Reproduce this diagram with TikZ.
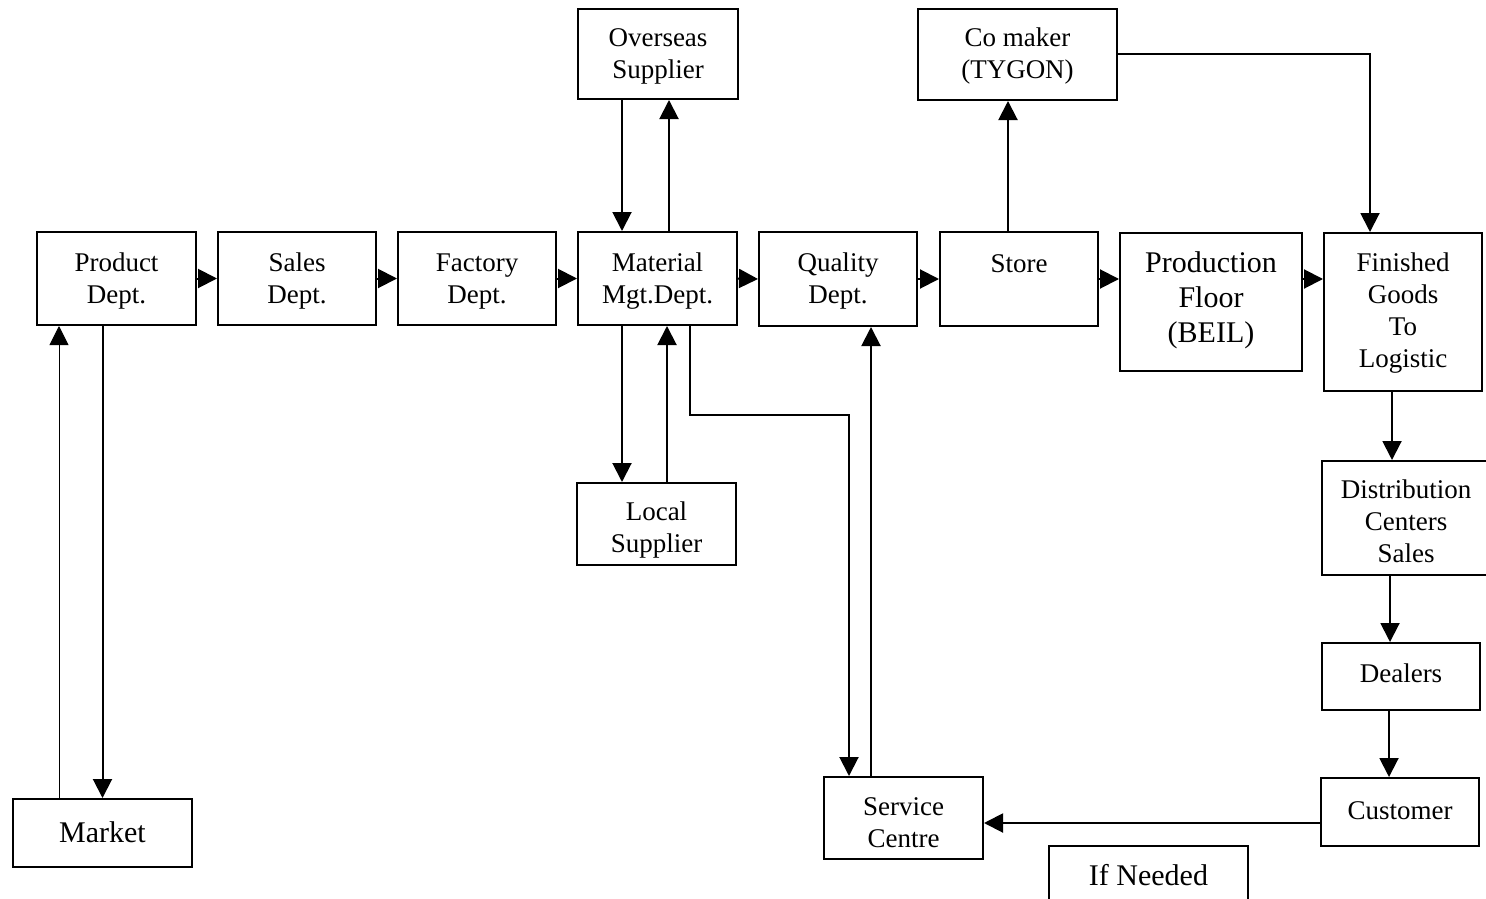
\documentclass[tikz,border=0pt]{standalone}
\usepackage{fontspec}
\setmainfont{Liberation Serif}
\usetikzlibrary{arrows.meta}
% centred lines of box text, lowered by #1 without changing the box size
\newcommand{\boxtext}[2]{\raisebox{-#1}[\height][\depth]{\begin{tabular}{@{}c@{}}#2\end{tabular}}}
\begin{document}
\begin{tikzpicture}[x=1pt,y=-1pt,
  box/.style={draw, line width=2pt, inner sep=0pt,
    font=\fontsize{27}{32}\selectfont},
  bigbox/.style={box, font=\fontsize{30}{35}\selectfont},
  arr/.style={line width=2pt, -{Triangle[length=19pt,width=19pt]}},
  thinarr/.style={line width=1pt, -{Triangle[length=19pt,width=19pt]}}]
\clip (0,0) rectangle (1486,899);
\fill[white] (0,0) rectangle (1486,899);

% main process row
\node[box, minimum width=159pt, minimum height=93pt] (prod) at (116.5,278.5) {\boxtext{2.5pt}{Product\\Dept.}};
\node[box, minimum width=158pt, minimum height=93pt] (sales) at (297,278.5) {\boxtext{2.5pt}{Sales\\Dept.}};
\node[box, minimum width=158pt, minimum height=93pt] (fact) at (477,278.5) {\boxtext{2.5pt}{Factory\\Dept.}};
\node[box, minimum width=159pt, minimum height=93pt] (mat) at (657.5,278.5) {\boxtext{2.5pt}{Material\\Mgt.Dept.}};
\node[box, minimum width=158pt, minimum height=94pt] (qd) at (838,279) {\boxtext{2pt}{Quality\\Dept.}};
\node[box, minimum width=158pt, minimum height=94pt] (st) at (1019,279) {\boxtext{-13.4pt}{Store}};
\node[bigbox, minimum width=182pt, minimum height=138pt] (pf) at (1211,302) {\boxtext{-1.4pt}{Production\\Floor\\(BEIL)}};
\node[box, minimum width=158pt, minimum height=158pt] (fg) at (1403,312) {\boxtext{1pt}{Finished\\Goods\\To\\Logistic}};

% suppliers and co maker
\node[box, minimum width=160pt, minimum height=90pt] (ov) at (658,54) {\boxtext{2pt}{Overseas\\Supplier}};
\node[box, minimum width=199pt, minimum height=91pt] (cm) at (1017.5,54.5) {\boxtext{2pt}{Co maker\\(TYGON)}};
\node[box, minimum width=159pt, minimum height=82pt] (loc) at (656.5,524) {\boxtext{6pt}{Local\\Supplier}};

% distribution chain
\node[box, minimum width=168pt, minimum height=114pt] (dist) at (1406,518) {\boxtext{6.5pt}{Distribution\\Centers\\Sales}};
\node[box, minimum width=158pt, minimum height=67pt] (deal) at (1401,676.5) {\boxtext{-0.9pt}{Dealers}};
\node[box, minimum width=158pt, minimum height=68pt] (cust) at (1400,812) {\boxtext{0.8pt}{Customer}};
\node[box, minimum width=159pt, minimum height=82pt] (sc) at (903.5,818) {\boxtext{7.5pt}{Service\\Centre}};
\node[bigbox, minimum width=199pt, minimum height=68pt] (ifn) at (1148.5,880) {\boxtext{-2pt}{If Needed}};
\node[bigbox, minimum width=179pt, minimum height=68pt] (mk) at (102.5,833) {\boxtext{2.2pt}{Market}};

% row connectors
\draw[arr] (prod.east) -- (sales.west);
\draw[arr] (sales.east) -- (fact.west);
\draw[arr] (fact.east) -- (mat.west);
\draw[arr] (mat.east) -- (qd.west);
\draw[arr] (qd.east) -- (st.west);
\draw[arr] (st.east) -- (st.east -| pf.west);
\draw[arr] (st.east -| pf.east) -- (st.east -| fg.west);

% supplier connectors
\draw[arr] ([xshift=-36pt]ov.south) -- ([xshift=-35.5pt]mat.north);
\draw[arr] ([xshift=11.5pt]mat.north) -- ([xshift=11pt]ov.south);
\draw[arr] ([xshift=-35.5pt]mat.south) -- ([xshift=-34.5pt]loc.north);
\draw[arr] ([xshift=10.5pt]loc.north) -- ([xshift=9.5pt]mat.south);
\draw[arr] ([xshift=-11pt]st.north) -- ([xshift=-9.5pt]cm.south);
\draw[arr] (cm.east) -| ([xshift=-33pt]fg.north);

% service connectors
\coordinate (bend) at (849,415);
\draw[arr] ([xshift=32.5pt]mat.south) |- (bend) -- ([xshift=-54.5pt]sc.north);
\draw[arr] ([xshift=-32.5pt]sc.north) -- ([xshift=33pt]qd.south);
\draw[arr] ([yshift=-11pt]cust.west) -- ([yshift=-5pt]sc.east);

% market connectors
\draw[arr] (prod.south -| mk.north) -- (mk.north);
\draw[thinarr] ([xshift=-43.5pt]mk.north) -- ([xshift=-57.5pt]prod.south);

% distribution connectors
\draw[arr] ([xshift=-11pt]fg.south) -- ([xshift=-14pt]dist.north);
\draw[arr] ([xshift=-16pt]dist.south) -- ([xshift=-11pt]deal.north);
\draw[arr] ([xshift=-12pt]deal.south) -- ([xshift=-11pt]cust.north);
\end{tikzpicture}
\end{document}
